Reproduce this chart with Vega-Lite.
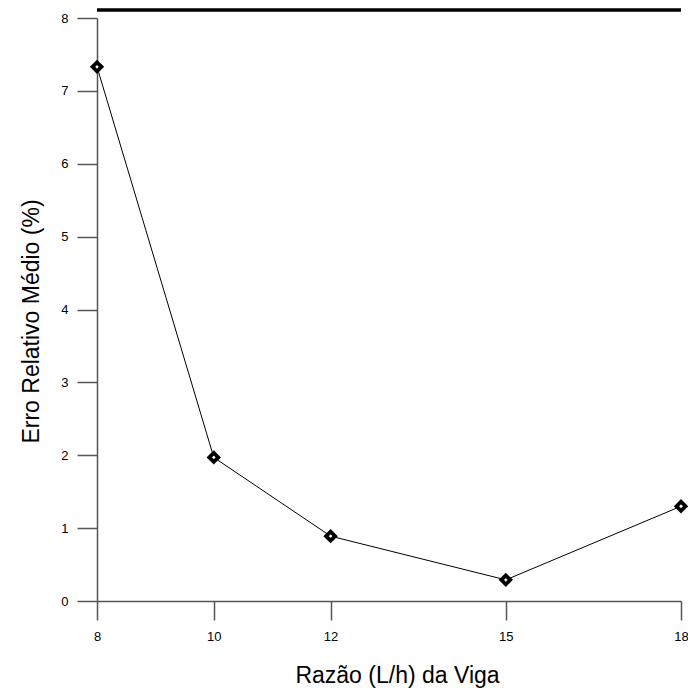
{
  "$schema": "https://vega.github.io/schema/vega-lite/v6.json",
  "width": 584,
  "height": 583,
  "autosize": {"type": "none"},
  "padding": {"left": 97, "top": 18, "right": 7, "bottom": 87},
  "background": "white",
  "config": {
    "view": {"stroke": null},
    "font": "Liberation Sans",
    "axis": {
      "grid": false,
      "domainColor": "#555",
      "tickColor": "#555",
      "domainWidth": 1.5,
      "tickWidth": 1.5,
      "labelFont": "Liberation Sans",
      "titleFont": "Liberation Sans",
      "labelColor": "#000",
      "titleColor": "#000",
      "labelFontSize": 13,
      "titleFontSize": 23,
      "titleFontWeight": "normal"
    }
  },
  "data": {
    "values": [
      {"razao": 8, "erro": 7.33},
      {"razao": 10, "erro": 1.97},
      {"razao": 12, "erro": 0.89},
      {"razao": 15, "erro": 0.29},
      {"razao": 18, "erro": 1.30}
    ]
  },
  "layer": [
    {
      "mark": {"type": "rule", "color": "black", "strokeWidth": 2.5, "clip": false},
      "encoding": {"y": {"datum": 8.11, "type": "quantitative"}}
    },
    {
      "mark": {"type": "line", "color": "black", "strokeWidth": 1},
      "encoding": {
        "x": {
          "field": "razao",
          "type": "quantitative",
          "scale": {"domain": [8, 18], "nice": false, "zero": false},
          "axis": {
            "values": [8, 10, 12, 15, 18],
            "format": "d",
            "title": "Razão (L/h) da Viga",
            "tickSize": 19,
            "labelPadding": 10,
            "titlePadding": 21,
            "titleX": 300,
            "labelFlush": false
          }
        },
        "y": {
          "field": "erro",
          "type": "quantitative",
          "scale": {"domain": [0, 8], "nice": false},
          "axis": {
            "values": [0, 0.5, 1, 1.5, 2, 2.5, 3, 3.5, 4, 4.5, 5, 5.5, 6, 6.5, 7, 7.5, 8],
            "labelExpr": "datum.value % 1 === 0 ? format(datum.value, 'd') : ''",
            "tickSize": {"condition": {"test": "datum.value % 1 === 0", "value": 20}, "value": 10},
            "labelPadding": 9,
            "title": "Erro Relativo Médio (%)",
            "titlePadding": 17,
            "titleY": 303,
            "labelFlush": false
          }
        }
      }
    },
    {
      "mark": {"type": "point", "shape": "diamond", "filled": true, "fill": "white", "stroke": "black", "strokeWidth": 3.8, "size": 81, "opacity": 1},
      "encoding": {
        "x": {"field": "razao", "type": "quantitative"},
        "y": {"field": "erro", "type": "quantitative"}
      }
    }
  ]
}
